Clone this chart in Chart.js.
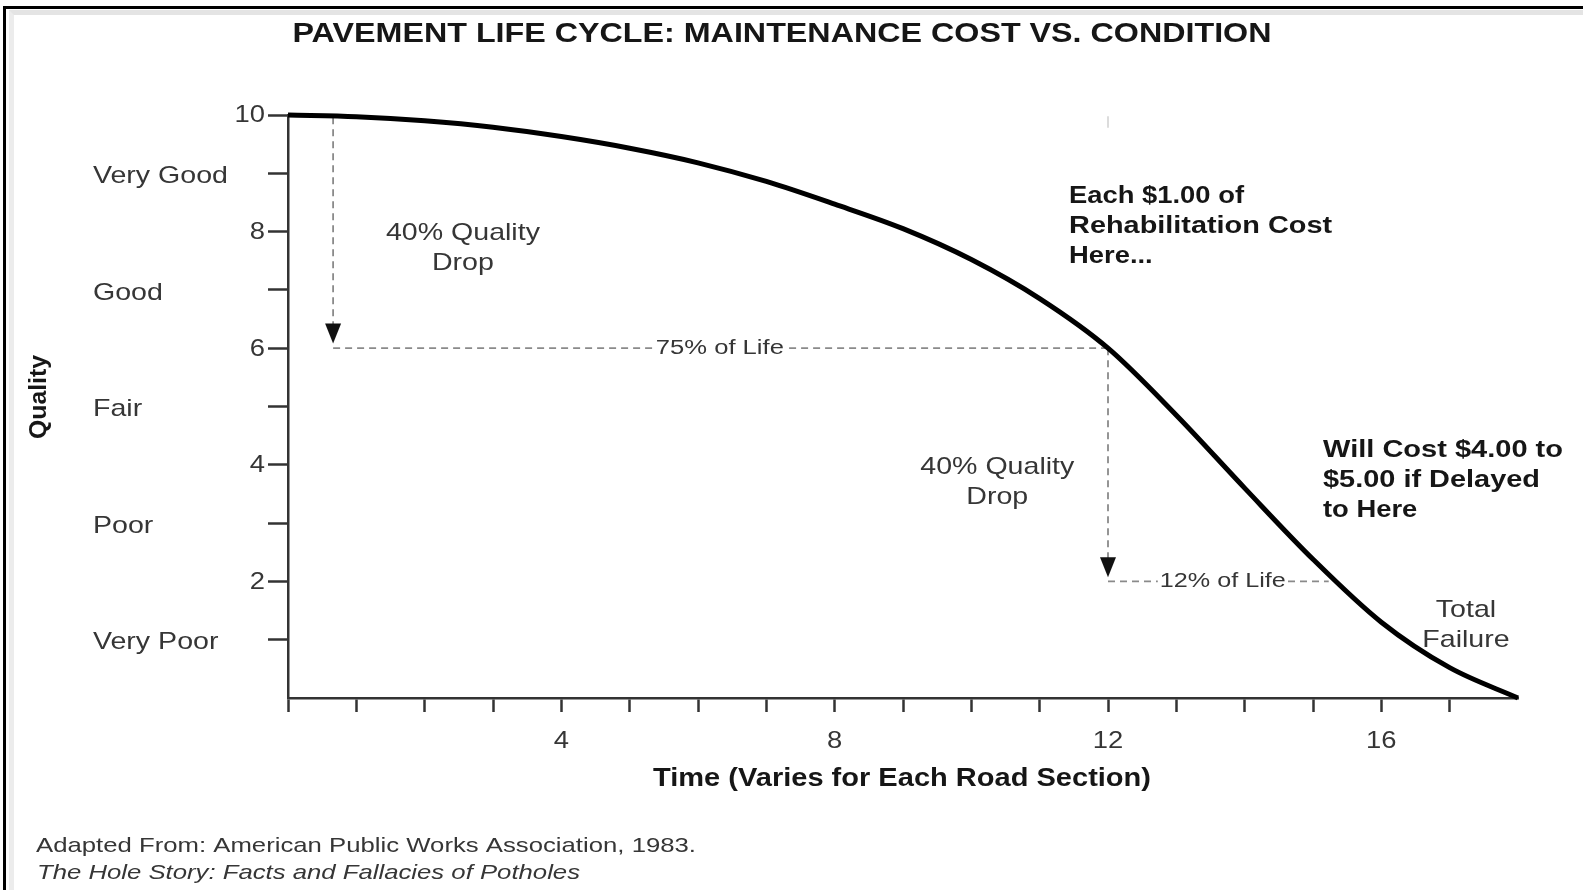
<!DOCTYPE html>
<html>
<head>
<meta charset="utf-8">
<title>Pavement Life Cycle</title>
<script src="https://cdn.jsdelivr.net/npm/chart.js@4.4.1/dist/chart.umd.min.js"></script>
<style>
  html, body { margin: 0; padding: 0; background: #fff; overflow: hidden; }
  .outer { position: absolute; left: 3px; top: 6px; right: 0; bottom: 0; border-top: 3px solid #000; border-left: 3px solid #000; }
  .inner { position: absolute; left: 9px; top: 10px; right: 0; bottom: 0; border-top: 5px solid #e4e4e4; border-left: 5px solid #ececec; }
  #chart { position: absolute; left: 0; top: 0; }
</style>
</head>
<body>
<div class="outer"></div>
<div class="inner"></div>
<canvas id="chart" width="1583" height="890"></canvas>
<script>
// curve: time (years) vs quality
var timeValues = [0, 1, 2, 3, 4, 5, 6, 7, 8, 9, 10, 11, 12, 13, 14, 15, 16, 17, 18];
var qualityValues = [10, 9.97, 9.9, 9.79, 9.63, 9.43, 9.18, 8.86, 8.47, 8.05, 7.52, 6.85, 6.0, 4.85, 3.6, 2.38, 1.3, 0.52, 0];

var xTickLabels = [4, 8, 12, 16];
var yTickLabels = [2, 4, 6, 8, 10];
var conditionNames = ['Very Poor', 'Poor', 'Fair', 'Good', 'Very Good'];
var conditionLevels = [1, 3, 5, 7, 9];

var FONT = '"Liberation Sans", Arial, sans-serif';
var SX = 1.19; // the source picture is stretched sideways

function txt(ctx, s, x, y, o) {
  ctx.save();
  ctx.font = o.font;
  ctx.fillStyle = o.color || '#363636';
  ctx.textBaseline = 'middle';
  ctx.textAlign = 'left';
  var w = ctx.measureText(s).width;
  var sx = o.w ? o.w / w : SX;
  var sw = w * sx;
  var left = x;
  if (o.align === 'center') left = x - sw / 2;
  if (o.align === 'right') left = x - sw;
  if (o.bg) {
    ctx.fillStyle = '#fff';
    ctx.fillRect(left - 2, y - 9, sw + 4, 18);
    ctx.fillStyle = o.color || '#363636';
  }
  ctx.translate(left, y);
  ctx.scale(sx, 1);
  ctx.fillText(s, 0, 0);
  ctx.restore();
}

function dashed(ctx, x1, y1, x2, y2) {
  ctx.save();
  ctx.strokeStyle = '#8a8a8a';
  ctx.lineWidth = 1.8;
  ctx.setLineDash([7, 5]);
  ctx.beginPath();
  ctx.moveTo(x1, y1);
  ctx.lineTo(x2, y2);
  ctx.stroke();
  ctx.restore();
}

function arrowDown(ctx, x, tipY) {
  ctx.save();
  ctx.fillStyle = '#111';
  ctx.beginPath();
  ctx.moveTo(x, tipY);
  ctx.lineTo(x - 8, tipY - 20);
  ctx.lineTo(x + 8, tipY - 20);
  ctx.closePath();
  ctx.fill();
  ctx.restore();
}

var labelsPlugin = {
  id: 'labels',
  beforeDatasetsDraw: function (chart) {
    var ctx = chart.ctx;
    var xs = chart.scales.x, ys = chart.scales.y;
    var X = function (v) { return xs.getPixelForValue(v); };
    var Y = function (v) { return ys.getPixelForValue(v); };

    // faint mark at the top of the 12 line
    ctx.save();
    ctx.strokeStyle = '#d0d0d0';
    ctx.lineWidth = 1.5;
    ctx.beginPath();
    ctx.moveTo(X(12), Y(9.98));
    ctx.lineTo(X(12), Y(9.78));
    ctx.stroke();
    ctx.restore();

    // first quality drop
    dashed(ctx, X(0.66), Y(9.96), X(0.66), Y(6.35));
    arrowDown(ctx, X(0.66), Y(6.08));
    dashed(ctx, X(0.66), Y(6), X(12), Y(6));
    txt(ctx, '75% of Life', X(6.32), Y(6), { font: '20px ' + FONT, w: 128, align: 'center', bg: true });

    // second quality drop
    dashed(ctx, X(12), Y(6), X(12), Y(2.35));
    arrowDown(ctx, X(12), Y(2.07));
    dashed(ctx, X(12), Y(2), X(15.23), Y(2));
    txt(ctx, '12% of Life', X(13.68), Y(2), { font: '20px ' + FONT, w: 126, align: 'center', bg: true });
  },
  afterDraw: function (chart) {
    var ctx = chart.ctx;
    var xs = chart.scales.x, ys = chart.scales.y;
    var X = function (v) { return xs.getPixelForValue(v); };
    var Y = function (v) { return ys.getPixelForValue(v); };
    var reg = '24px ' + FONT;
    var bold = 'bold 23px ' + FONT;
    var dark = '#161616';

    txt(ctx, 'PAVEMENT LIFE CYCLE: MAINTENANCE COST VS. CONDITION', 782, 35,
      { font: 'bold 27px ' + FONT, color: dark, w: 979, align: 'center' });

    // y axis numbers and condition names
    yTickLabels.forEach(function (v) {
      txt(ctx, String(v), xs.left - 23, Y(v) + 1, { font: '23px ' + FONT, align: 'right' });
    });
    conditionNames.forEach(function (name, i) {
      txt(ctx, name, 93, Y(conditionLevels[i]) + 3, { font: reg });
    });
    xTickLabels.forEach(function (v) {
      txt(ctx, String(v), X(v), ys.bottom + 44, { font: '23px ' + FONT, align: 'center' });
    });

    // axis titles
    txt(ctx, 'Time (Varies for Each Road Section)', 902, ys.bottom + 81,
      { font: 'bold 25px ' + FONT, color: dark, w: 498, align: 'center' });
    ctx.save();
    ctx.translate(40, 397);
    ctx.rotate(-Math.PI / 2);
    ctx.font = 'bold 23px ' + FONT;
    ctx.fillStyle = dark;
    ctx.textBaseline = 'middle';
    var qw = ctx.measureText('Quality').width;
    ctx.scale(84 / qw, 1);
    ctx.textAlign = 'center';
    ctx.fillText('Quality', 0, 0);
    ctx.restore();

    // notes
    txt(ctx, '40% Quality', X(2.56), 233, { font: reg, align: 'center' });
    txt(ctx, 'Drop', X(2.56), 263, { font: reg, align: 'center' });
    txt(ctx, '40% Quality', X(10.38), 467, { font: reg, align: 'center' });
    txt(ctx, 'Drop', X(10.38), 497, { font: reg, align: 'center' });

    txt(ctx, 'Each $1.00 of', X(11.43), 197, { font: bold, color: dark });
    txt(ctx, 'Rehabilitation Cost', X(11.43), 227, { font: bold, color: dark, w: 263 });
    txt(ctx, 'Here...', X(11.43), 257, { font: bold, color: dark });

    txt(ctx, 'Will Cost $4.00 to', 1323, 451, { font: bold, color: dark, w: 240 });
    txt(ctx, '$5.00 if Delayed', 1323, 481, { font: bold, color: dark, w: 217 });
    txt(ctx, 'to Here', 1323, 511, { font: bold, color: dark });

    txt(ctx, 'Total', 1466, 610, { font: reg, align: 'center' });
    txt(ctx, 'Failure', 1466, 640, { font: reg, align: 'center' });

    txt(ctx, 'Adapted From: American Public Works Association, 1983.', 36, 846,
      { font: '21px ' + FONT, w: 660 });
    txt(ctx, 'The Hole Story: Facts and Fallacies of Potholes', 37, 873,
      { font: 'italic 21px ' + FONT, w: 543 });
  }
};

var points = timeValues.map(function (t, i) { return { x: t, y: qualityValues[i] }; });

new Chart(document.getElementById('chart'), {
  type: 'line',
  data: {
    datasets: [{
      data: points,
      borderColor: '#000',
      borderWidth: 5,
      pointRadius: 0,
      fill: false,
      cubicInterpolationMode: 'monotone',
      clip: false
    }]
  },
  options: {
    responsive: false,
    animation: false,
    devicePixelRatio: 1,
    layout: { padding: { left: 268, right: 65, top: 115, bottom: 178 } },
    plugins: { legend: { display: false }, tooltip: { enabled: false } },
    scales: {
      x: {
        type: 'linear',
        min: 0, max: 18,
        ticks: { display: false, stepSize: 1 },
        grid: {
          drawOnChartArea: false,
          tickLength: 14,
          tickWidth: 2.5,
          tickColor: function (c) { return c.tick && c.tick.value === 18 ? 'rgba(0,0,0,0)' : '#333'; }
        },
        border: { color: '#333', width: 2.5 },
        afterFit: function (s) { s.height = 14; }
      },
      y: {
        min: 0, max: 10,
        ticks: { display: false, stepSize: 1 },
        grid: {
          drawOnChartArea: false,
          tickLength: 20,
          tickWidth: 2.5,
          tickColor: function (c) { return c.tick && c.tick.value === 0 ? 'rgba(0,0,0,0)' : '#333'; }
        },
        border: { color: '#333', width: 2.5 },
        afterFit: function (s) { s.width = 20; }
      }
    }
  },
  plugins: [labelsPlugin]
});
</script>
</body>
</html>
